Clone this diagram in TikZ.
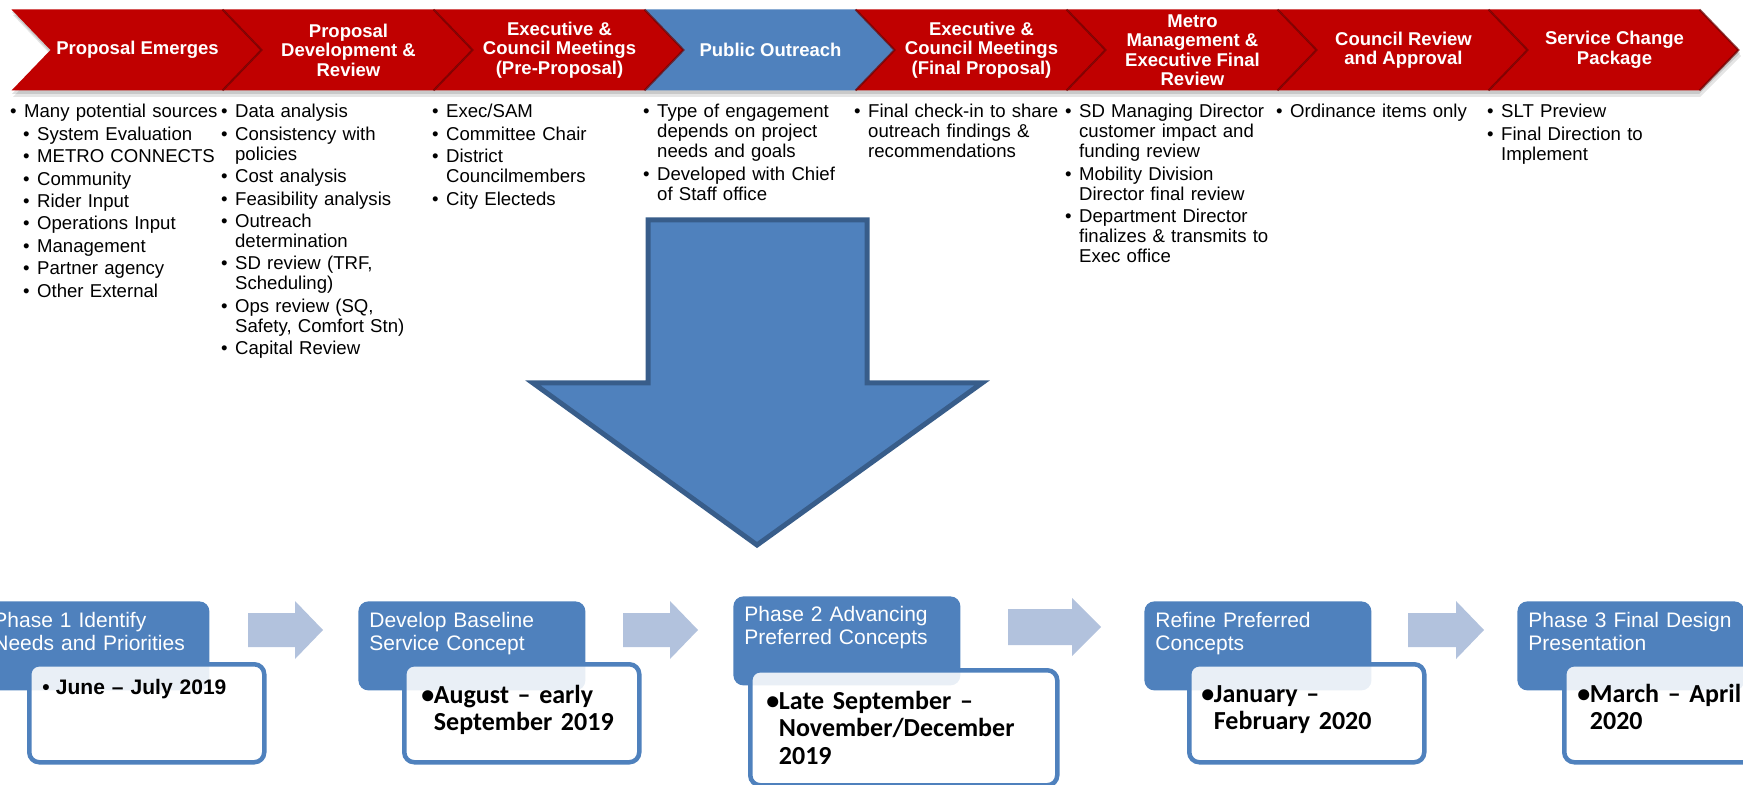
\documentclass[tikz,border=0pt]{standalone}
\usepackage{fontspec}
\setmainfont{Liberation Sans}
\newfontfamily\calibri{Carlito}
\definecolor{cred}{RGB}{192,0,0}
\definecolor{cblue}{RGB}{79,129,189}
\definecolor{cdark}{RGB}{56,93,138}
\definecolor{clight}{RGB}{178,194,221}
\definecolor{cshade}{RGB}{105,0,0}
\newcommand\bfirst[1]{\noindent\hangindent=7pt\hangafter=1\makebox[7pt][l]{\textbullet}#1}
\newcommand\bi[1]{\par\noindent\hangindent=7pt\hangafter=1\makebox[7pt][l]{\textbullet}#1}
\newcommand\bii[1]{\par\noindent\hangindent=13.5pt\hangafter=1\hspace*{6.5pt}\makebox[7pt][l]{\textbullet}#1}
\newcommand\mychev[4]{%
  \pgfmathsetmacro\cx{11.5+211*#1}
  \fill[#2] (\cx,9.5) -- ++(211,0) -- ++(39,40.5) -- ++(-39,40.5) -- ++(-211,0) -- ++(39,-40.5) -- cycle;
  \node[chevtext] (#3) at (\cx+126,50) {#4};
}
\newcommand\mytip[1]{%
  \pgfmathsetmacro\cx{11.5+211*#1}
  \draw[cshade, line width=1pt, opacity=0.7] (\cx+211,9.5) -- ++(39,40.5) -- ++(-39,40.5);
}
\tikzset{
  chevtext/.style={text=white, font=\bfseries\fontsize{9.25}{9.75}\selectfont, align=center, inner sep=0pt},
  col/.style={anchor=base west, inner sep=0pt, text width=125pt, align=left, font=\fontsize{9.3}{10}\selectfont\setlength\parskip{1.2pt}},
  hdr/.style={fill=cblue, rounded corners=5pt, anchor=north west, inner sep=0pt, minimum width=113.5pt, minimum height=44.5pt},
  wbox/.style={fill=white, fill opacity=0.88, draw=cblue, line width=2.25pt, rounded corners=5pt, anchor=north west, inner sep=0pt, minimum width=117.5pt, minimum height=49pt},
  htext/.style={anchor=base west, inner sep=0pt, text=white, text width=110pt, align=left, font=\fontsize{10.5}{11.5}\selectfont},
  dtext/.style={anchor=base west, inner sep=0pt, text width=150pt, align=left, font=\calibri\bfseries\fontsize{13}{13.9}\selectfont},
  larrow/.style={fill=clight}
}
\begin{document}
\begin{tikzpicture}[x=0.5pt,y=-0.5pt]
\clip (0,0) rectangle (1743,785);
% band shadow
\fill[black, opacity=0.10] (13,15) -- (1700,15) -- (1741,56) -- (1700,97) -- (13,97) -- (52,56) -- cycle;
\fill[black, opacity=0.12] (12,12) -- (1699,12) -- (1740,53) -- (1699,94) -- (12,94) -- (51,53) -- cycle;
% chevrons
\mychev{0}{cred}{k1}{Proposal Emerges}
\mychev{1}{cred}{k2}{Proposal\\Development \&\\Review}
\mychev{2}{cred}{k3}{Executive \&\\Council Meetings\\(Pre-Proposal)}
\mychev{3}{cblue}{k4}{Public Outreach}
\mychev{4}{cred}{k5}{Executive \&\\Council Meetings\\(Final Proposal)}
\mychev{5}{cred}{k6}{Metro\\Management \&\\Executive Final\\Review}
\mychev{6}{cred}{k7}{Council Review\\and Approval}
\mychev{7}{cred}{k8}{Service Change\\Package}
\mytip{0}\mytip{1}\mytip{2}\mytip{3}\mytip{4}\mytip{5}\mytip{6}\mytip{7}
% bullet columns
\node[col] (c1) at (9.75,118) {%
  \bfirst{Many potential sources}
  \bii{System Evaluation}
  \bii{METRO CONNECTS}
  \bii{Community}
  \bii{Rider Input}
  \bii{Operations Input}
  \bii{Management}
  \bii{Partner agency}
  \bii{Other External}\par};
\node[col] (c2) at (220.75,118) {%
  \bfirst{Data analysis}
  \bi{Consistency with\newline policies}
  \bi{Cost analysis}
  \bi{Feasibility analysis}
  \bi{Outreach\newline determination}
  \bi{SD review (TRF,\newline Scheduling)}
  \bi{Ops review (SQ,\newline Safety, Comfort Stn)}
  \bi{Capital Review}\par};
\node[col] (c3) at (431.75,118) {%
  \bfirst{Exec/SAM}
  \bi{Committee Chair}
  \bi{District\newline Councilmembers}
  \bi{City Electeds}\par};
\node[col] (c4) at (642.75,118) {%
  \bfirst{Type of engagement\newline depends on project\newline needs and goals}
  \bi{Developed with Chief\newline of Staff office}\par};
\node[col] (c5) at (853.75,118) {%
  \bfirst{Final check-in to share\newline outreach findings \&\newline recommendations}\par};
\node[col] (c6) at (1064.75,118) {%
  \bfirst{SD Managing Director\newline customer impact and\newline funding review}
  \bi{Mobility Division\newline Director final review}
  \bi{Department Director\newline finalizes \& transmits to\newline Exec office}\par};
\node[col] (c7) at (1275.75,118) {%
  \bfirst{Ordinance items only}\par};
\node[col] (c8) at (1486.75,118) {%
  \bfirst{SLT Preview}
  \bi{Final Direction to\newline Implement}\par};
% big arrow
\draw[fill=cblue, draw=cdark, line width=2.5pt, line join=miter] (648,220) -- (867,220) -- (867,383) -- (982,383) -- (757,545) -- (533,383) -- (648,383) -- cycle;
% phase headers
\node[hdr] (h1) at (-18,601) {};
\node[hdr] (h2) at (358,601) {};
\node[hdr] (h3) at (733,596) {};
\node[hdr] (h4) at (1144,601) {};
\node[hdr] (h5) at (1517,601) {};
\node[htext] (t1) at (-7,627) {Phase 1 Identify\\Needs and Priorities};
\node[htext] (t2) at (369,627) {Develop Baseline\\Service Concept};
\node[htext] (t3) at (744,621) {Phase 2 Advancing\\Preferred Concepts};
\node[htext] (t4) at (1155,627) {Refine Preferred\\Concepts};
\node[htext] (t5) at (1528,627) {Phase 3 Final Design\\Presentation};
% white boxes
\node[wbox] (w1) at (27,662) {};
\node[wbox] (w2) at (402,662) {};
\node[wbox, minimum width=153.5pt, minimum height=57.5pt] (w3) at (748,668) {};
\node[wbox] (w4) at (1187,662) {};
\node[wbox] (w5) at (1562,662) {};
% dates
\node[anchor=base west, inner sep=0pt, text width=110pt, align=left, font=\bfseries\fontsize{10.5}{12}\selectfont] (d1) at (42,694) {\makebox[6.8pt][l]{•}June – July 2019};
\node[dtext] (d2) at (421,703) {\makebox[6.25pt][l]{•}August – early\\\hspace*{6.25pt}September 2019};
\node[dtext] (d3) at (766,709) {\makebox[6.25pt][l]{•}Late September –\\\hspace*{6.25pt}November/December\\\hspace*{6.25pt}2019};
\node[dtext] (d4) at (1201,702) {\makebox[6.25pt][l]{•}January –\\\hspace*{6.25pt}February 2020};
\node[dtext] (d5) at (1577,702) {\makebox[6.25pt][l]{•}March – April\\\hspace*{6.25pt}2020};
% light arrows
\fill[larrow] (248,613) -- (295,613) -- (295,601) -- (323,630) -- (295,659) -- (295,647) -- (248,647) -- cycle;
\fill[larrow] (623,613) -- (670,613) -- (670,601) -- (698,630) -- (670,659) -- (670,647) -- (623,647) -- cycle;
\fill[larrow] (1008,609) -- (1072,609) -- (1072,598) -- (1101,627) -- (1072,656) -- (1072,645) -- (1008,645) -- cycle;
\fill[larrow] (1408,613) -- (1456,613) -- (1456,601) -- (1484,630) -- (1456,659) -- (1456,647) -- (1408,647) -- cycle;
\end{tikzpicture}
\end{document}
